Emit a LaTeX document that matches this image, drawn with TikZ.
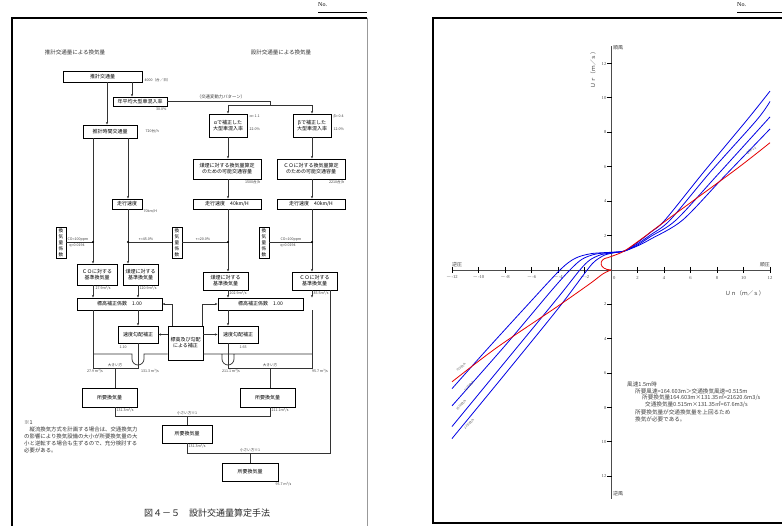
\documentclass[tikz,border=0pt]{standalone}
\usepackage{fontspec}
\setmainfont{Liberation Serif}
\newfontfamily\jp{Noto Sans CJK JP}
\usetikzlibrary{arrows.meta}
\tikzset{
  bx/.style={draw, line width=0.9pt, inner sep=0pt, align=center, font=\jp\fontsize{5}{6}\selectfont},
  vbx/.style={draw, line width=0.9pt, inner sep=0pt, align=center, minimum width=10, minimum height=31, font=\jp\fontsize{4.6}{6}\selectfont},
  lbl/.style={inner sep=0.4pt, font=\jp\fontsize{3.6}{4}\selectfont, text=black!75},
  con/.style={line width=0.7pt, draw=black!80},
  arr/.style={con, -{Stealth[length=2.6pt,width=2.2pt]}},
  dotc/.style={fill=black},
  axl/.style={line width=0.9pt, draw=black!70},
  tkl/.style={inner sep=0.5pt, font=\fontsize{4.6}{5}\selectfont, text=black!70},
  cvl/.style={inner sep=0pt, font=\jp\fontsize{3.0}{3.2}\selectfont, text=black!70},
  blu/.style={line width=0.8pt, draw=blue!90!black},
  rdc/.style={line width=0.8pt, draw=red!90!black},
  ctx/.style={inner sep=0pt, anchor=west, font=\jp\fontsize{5.6}{6}\selectfont, text=black!75}
}
\begin{document}
\begin{tikzpicture}[x=1pt,y=-1pt]
\useasboundingbox (0,0) rectangle (782,526);
\clip (0,0) rectangle (782,526);
\fill[white] (0,0) rectangle (782,526);
% ---------------- page frames ----------------
\node[anchor=west, inner sep=0pt, font=\fontsize{6}{7}\selectfont] (no1) at (318,5) {No.};
\draw[line width=0.8pt] (318,12) -- (367,12);
\node[anchor=west, inner sep=0pt, font=\fontsize{6}{7}\selectfont] (no2) at (737,5) {No.};
\draw[line width=0.8pt] (737,12) -- (782,12);
\draw[line width=1.1pt] (12,530) -- (12,18) -- (367,18);
\draw[line width=0.8pt, black!40] (367,18) -- (367,530);
\draw[line width=1.1pt] (790,18) -- (433,18) -- (433,523) -- (790,523);
% ---------------- headings ----------------
\node[font=\jp\fontsize{5.5}{6}\selectfont, text=black!80] (h1) at (75,52) {推計交通量による換気量};
\node[font=\jp\fontsize{5.5}{6}\selectfont, text=black!80] (h2) at (281,52) {設計交通量による換気量};
% ---------------- x lines ----------------
\coordinate (xAB) at (132,0);
\coordinate (xAC) at (107,0);
\coordinate (xa) at (93,0);
\coordinate (xb) at (128,0);
\coordinate (xc) at (138,0);
\coordinate (xd) at (228,0);
\coordinate (xe) at (312,0);
\coordinate (xf) at (330,0);
\coordinate (xg) at (115,0);
\coordinate (xh) at (270,0);
\coordinate (xi) at (187,0);
\coordinate (xj) at (250,0);
\coordinate (xk) at (172,0);
\coordinate (xl) at (202,0);
\coordinate (yj) at (0,242);
\coordinate (yU) at (0,334.5);
\coordinate (y354) at (0,354);
\coordinate (y368) at (0,368);
\coordinate (y416) at (0,416);
\coordinate (y453) at (0,453);
% ---------------- boxes ----------------
\node[bx, minimum width=79, minimum height=11] (A) at (102.5,76.5) {推計交通量};
\node[lbl, anchor=west] (lA) at (144,80) {4000（台／日）};
\node[bx, minimum width=54, minimum height=9] (B) at (140,101.5) {年平均大型車混入率};
\node[lbl, anchor=north east] (lB) at (167,107) {30.0\%};
\node[bx, minimum width=54, minimum height=13] (C) at (110,131.5) {推計時間交通量};
\node[lbl, anchor=west] (lC) at (145,131.5) {720台/h};
\node[bx, minimum width=38, minimum height=23] (D) at (228,125.5) {αで補正した\\大型車混入率};
\node[lbl, anchor=west] (lD1) at (249,116) {α= 1.1};
\node[lbl, anchor=west] (lD2) at (249,129) {22.0\%};
\node[bx, minimum width=38, minimum height=23] (E) at (312,125.5) {βで補正した\\大型車混入率};
\node[lbl, anchor=west] (lE1) at (333,116) {β= 0.4};
\node[lbl, anchor=west] (lE2) at (333,129) {12.0\%};
\node[bx, minimum width=68, minimum height=20] (F) at (227,169) {煤煙に対する換気量算定\\のための可能交通容量};
\node[lbl, anchor=north east] (lF) at (261,179.5) {1500台/h};
\node[bx, minimum width=68, minimum height=20] (G) at (311,169) {ＣＯに対する換気量算定\\のための可能交通容量};
\node[lbl, anchor=north east] (lG) at (345,179.5) {2210台/h};
\node[bx, minimum width=30, minimum height=10] (H) at (127,204) {走行速度};
\node[lbl, anchor=north west] (lH) at (143,209.5) {70km/H};
\node[bx, minimum width=68, minimum height=10] (I) at (227,204) {走行速度　40km/H};
\node[bx, minimum width=68, minimum height=10] (J) at (311,204) {走行速度　40km/H};
\node[vbx] (K) at (61,242.5) {換\\気\\量\\係\\数};
\node[vbx] (L) at (177,242.5) {換\\気\\量\\係\\数};
\node[vbx] (M) at (264,242.5) {換\\気\\量\\係\\数};
\node[lbl] (lK1) at (78,239.5) {CO=100ppm};
\node[lbl] (lK2) at (77,246) {q=0.0194};
\node[lbl] (lL1) at (146,239.5) {τ=45.0\%};
\node[lbl] (lL2) at (203,239.5) {τ=20.0\%};
\node[lbl] (lM1) at (291,239.5) {CO=100ppm};
\node[lbl] (lM2) at (288,246) {q=0.0194};
\node[bx, minimum width=40, minimum height=21] (N) at (97,274.5) {ＣＯに対する\\基準換気量};
\node[lbl, anchor=north west] (lN) at (95,285.5) {27.9m³/s};
\node[bx, minimum width=35, minimum height=21] (O) at (140.5,274.5) {煤煙に対する\\基準換気量};
\node[lbl, anchor=north west] (lO) at (139,285.5) {120.9m³/s};
\node[bx, minimum width=45, minimum height=18] (P) at (225.5,281) {煤煙に対する\\基準換気量};
\node[lbl, anchor=north west] (lP) at (229,290.5) {202.9m³/s};
\node[bx, minimum width=45, minimum height=18] (Q) at (314.5,281) {ＣＯに対する\\基準換気量};
\node[lbl, anchor=north west] (lQ) at (313,290.5) {85.5m³/s};
\node[bx, minimum width=85, minimum height=12] (R) at (119.5,304) {標高補正係数　1.00};
\node[bx, minimum width=85, minimum height=12] (S) at (260.5,304) {標高補正係数　1.00};
\node[bx, minimum width=35, minimum height=34] (T) at (185.5,343) {標高及び勾配\\による補正};
\node[bx, minimum width=40, minimum height=17] (U) at (138,334.5) {速度勾配補正};
\node[lbl, anchor=west] (lU) at (119,347) {1.10};
\node[bx, minimum width=40, minimum height=17] (V) at (238,334.5) {速度勾配補正};
\node[lbl, anchor=west] (lV) at (239,347) {1.65};
\node[bx, minimum width=55, minimum height=19] (W) at (109.5,397.5) {所要換気量};
\node[lbl, anchor=north west] (lW) at (116,407.5) {131.3m³/s};
\node[bx, minimum width=55, minimum height=19] (X) at (267.5,397.5) {所要換気量};
\node[lbl, anchor=north west] (lX) at (271,407.5) {211.1m³/s};
\node[bx, minimum width=50, minimum height=18] (Y) at (187,434) {所要換気量};
\node[lbl, anchor=north west] (lY) at (188,443.5) {131.3m³/s};
\node[bx, minimum width=56, minimum height=18] (Z) at (250,472) {所要換気量};
\node[lbl, anchor=north west] (lZ) at (275,481.5) {95.7 m³/s};
% ---------------- connectors (top) ----------------
\draw[arr] (A.south -| xAB) -- (B.north -| xAB);
\draw[arr] (A.south -| xAC) -- (C.north -| xAC);
\coordinate (sp) at (270,105.5);
\draw[con] (B.east) -- (B.east -| sp) -- (sp);
\draw[con] (D.north |- sp) -- (E.north |- sp);
\draw[arr] (D.north |- sp) -- (D.north);
\draw[arr] (E.north |- sp) -- (E.north);
\node[lbl, font=\jp\fontsize{4.4}{5}\selectfont] (lsp) at (221,96.5) {（交通変動力パターン）};
\draw[arr] (C.south -| xa) -- (N.north -| xa);
\draw[arr] (C.south -| xb) -- (H.north -| xb);
\draw[arr] (H.south -| xb) -- (O.north -| xb);
\draw[arr] (D.south -| xd) -- (F.north -| xd);
\draw[arr] (F.south -| xd) -- (I.north -| xd);
\draw[arr] (I.south -| xd) -- (P.north -| xd);
\draw[arr] (E.south -| xe) -- (G.north -| xe);
\draw[arr] (G.south -| xe) -- (J.north -| xe);
\draw[arr] (J.south -| xe) -- (Q.north -| xe);
\draw[con] (K.east |- yj) -- (xa |- yj);
\draw[con] (xb |- yj) -- (L.west |- yj);
\draw[con] (L.east |- yj) -- (xd |- yj);
\draw[con] (M.east |- yj) -- (xe |- yj);
\fill[dotc] (xa |- yj) circle[radius=1.2pt];
\fill[dotc] (xb |- yj) circle[radius=1.2pt];
\fill[dotc] (xd |- yj) circle[radius=1.2pt];
\fill[dotc] (xe |- yj) circle[radius=1.2pt];
% ---------------- connectors (middle) ----------------
\draw[arr] (N.south -| xa) -- (R.north -| xa);
\draw[arr] (O.south -| xc) -- (R.north -| xc);
\draw[arr] (P.south -| xd) -- (S.north -| xd);
\draw[arr] (Q.south -| xe) -- (S.north -| xe);
\draw[arr] (R.south -| xc) -- (U.north -| xc);
\draw[arr] (S.south -| xd) -- (V.north -| xd);
\draw[arr] (T.west |- yU) -- (U.east |- yU);
\draw[arr] (T.east |- yU) -- (V.west |- yU);
\draw[arr] (T.north -| xk) -- (xk |- R.east) -- (R.east);
\draw[arr] (T.north -| xl) -- (xl |- S.west) -- (S.west);
\coordinate (hl1) at (144,354);
\coordinate (hl2) at (132,354);
\coordinate (hr1) at (222,354);
\coordinate (hr2) at (234,354);
\draw[con] (T.west |- y354) -- (hl1) -- ++(0,5) arc[start angle=0, end angle=-180, radius=6pt] -- (hl2) -- (xa |- y354);
\draw[con] (T.east |- y354) -- (hr2) -- ++(0,5) arc[start angle=0, end angle=-180, radius=6pt] -- (hr1) -- (xe |- y354);
% ---------------- connectors (bottom) ----------------
\draw[con] (R.south -| xa) -- (xa |- y368) -- (xc |- y368) -- (U.south -| xc);
\draw[con] (W.north -| xg) -- (xg |- y368);
\draw[con] (V.south -| xd) -- (xd |- y368) -- (xe |- y368) -- (S.south -| xe);
\draw[con] (X.north -| xh) -- (xh |- y368);
\node[lbl, anchor=south] (g1) at (115,367.3) {大きい方};
\node[lbl, anchor=south] (g2) at (270,367.3) {大きい方};
\node[lbl] (v1) at (95,371.5) {27.9 m³/s};
\node[lbl] (v2) at (150,371.5) {131.3 m³/s};
\node[lbl] (v3) at (231,371.5) {211.1 m³/s};
\node[lbl] (v4) at (320,371.5) {95.7 m³/s};
\draw[con] (W.south -| xg) -- (xg |- y416) -- (xh |- y416) -- (X.south -| xh);
\draw[con] (Y.north -| xi) -- (xi |- y416);
\node[lbl, anchor=south] (s1) at (187,415.3) {小さい方※1};
\draw[con] (Y.south -| xi) -- (xi |- y453) -- (xf |- y453) -- (Q.south -| xf);
\draw[con] (Z.north -| xj) -- (xj |- y453);
\node[lbl, anchor=south] (s2) at (250,452.3) {小さい方※1};
% ---------------- note and caption ----------------
\node[anchor=north west, inner sep=0pt, align=left, text=black!80, font=\jp\fontsize{5.4}{7.1}\selectfont] (note) at (24,420) {※1\\　縦流換気方式を計画する場合は、交通換気力\\の影響により換気設備の大小が所要換気量の大\\小と逆転する場合も生ずるので、充分検討する\\必要がある。};
\node[font=\jp\fontsize{9}{10}\selectfont, text=black!85] (cap) at (207,513) {図４－５　設計交通量算定手法};
% ---------------- chart ----------------
\begin{scope}[shift={(611,270)}, x=13.25pt, y=17.2pt]
  \draw[axl] (0,13.0) -- (0,-13.3);
  \draw[axl] (-12,0) -- (12,0);
  \foreach \k in {-12,-10,-8,-6,-4,-2,2,4,6,8,10,12} {
    \draw[line width=1pt] (\k,0.18) -- (\k,-0.18);
    \draw[line width=1pt] (-0.3,\k) -- (0.08,\k);
  }
  \foreach \k in {-12,-10,-8,-6,-4,-2} {\node[tkl] at (\k,-0.45) {$-$\k};}
  \foreach \k in {2,4,6,8,10,12} {\node[tkl] at (\k,-0.45) {\k};}
  \node[tkl] (x0) at (0.25,-0.45) {0};
  \foreach \k in {2,4,6,8,10,12} {
    \node[tkl, anchor=east] at (-0.3,\k) {\k};
    \node[tkl, anchor=east] at (-0.3,-\k) {\k};
  }
  \node[ctx, anchor=west, font=\jp\fontsize{5}{6}\selectfont] (ja) at (-12,0.3) {逆圧};
  \node[ctx, anchor=east, font=\jp\fontsize{5}{6}\selectfont] (jb) at (12,0.3) {順圧};
  \node[ctx, anchor=west, font=\jp\fontsize{5}{6}\selectfont] (jc) at (0.15,12.9) {順風};
  \node[ctx, anchor=west, font=\jp\fontsize{5}{6}\selectfont] (jd) at (0.15,-13.0) {逆風};
  \node[ctx, anchor=center, font=\jp\fontsize{5.6}{6}\selectfont] (un) at (10.1,-1.35) {Ｕｎ（ｍ／ｓ）};
  \node[ctx, anchor=center, rotate=90, font=\jp\fontsize{5.6}{6}\selectfont] (ur) at (-1.35,11.7) {Ｕｒ（ｍ／ｓ）};
  % blue curves
  \draw[blu] plot[smooth] coordinates {(-12,-6.9) (-9.4,-4.65) (-6.5,-2.2) (-3.85,0) (-2.7,0.68) (-1.5,0.95) (0,1.03) (1,1.1) (2,1.6) (3,2.2) (4.07,2.9) (7,5.7) (10.26,8.72) (12,10.4)};
  \draw[blu] plot[smooth] coordinates {(-12,-7.9) (-8,-4.4) (-4.5,-1.2) (-3.1,0) (-2.2,0.62) (-1.2,0.92) (0,1.02) (1,1.1) (2,1.52) (3,2.05) (4.45,2.9) (7.5,5.7) (11,8.72) (12,9.8)};
  \draw[blu] plot[smooth] coordinates {(-12,-9.1) (-8,-5.35) (-4,-1.6) (-2.35,0) (-1.6,0.58) (-0.8,0.88) (0,0.99) (1,1.1) (2,1.45) (3,1.95) (4.9,2.9) (8,5.5) (12,8.9)};
  \draw[blu] plot[smooth] coordinates {(-12,-9.8) (-8,-6.05) (-4,-2.25) (-1.8,0) (-1.2,0.52) (-0.5,0.86) (0.2,1.0) (1,1.1) (2,1.4) (3,1.8) (5.4,2.9) (8.5,5.4) (12,8.2)};
  % red curve
  \draw[rdc] plot[smooth] coordinates {(-12,-6.5) (-8.6,-4.5) (-4.1,-2.15) (-1.6,-0.8) (-0.6,-0.22) (0,0)};
  \draw[rdc] (0,0) .. controls (-0.9,0.02) and (-1.0,0.62) .. (-0.25,0.72);
  \draw[rdc] plot[smooth] coordinates {(-0.25,0.72) (0.9,1.06) (2.2,1.75) (4.2,2.9) (9.36,5.81) (12,7.4)};
  % curve labels
  \node[cvl, rotate=40] (c0) at (-11.3,-5.65) {720台/h};
  \node[cvl, rotate=45] (c1) at (-10.7,-6.75) {1200台/h};
  \node[cvl, rotate=45] (c2) at (-11.3,-7.85) {1500台/h};
  \node[cvl, rotate=45] (c3) at (-10.7,-8.95) {2210台/h};
  \node[cvl, rotate=33] (c4) at (10.6,6.95) {Q/A=1.1};
\end{scope}
% chart text
\node[ctx] (t1) at (627,384) {風速1.5m時};
\node[ctx] (t2) at (635,391.5) {所要風速=164.603m＞交通換気風速=0.515m};
\node[ctx] (t3) at (642,398) {所要換気量164.603m×131.35㎡=21620.6m3/s};
\node[ctx] (t4) at (645,405) {交通換気量0.515m×131.35㎡=67.6m3/s};
\node[ctx] (t5) at (635,412) {所要換気量が交通換気量を上回るため};
\node[ctx] (t6) at (635,419) {換気が必要である。};
\end{tikzpicture}
\end{document}
